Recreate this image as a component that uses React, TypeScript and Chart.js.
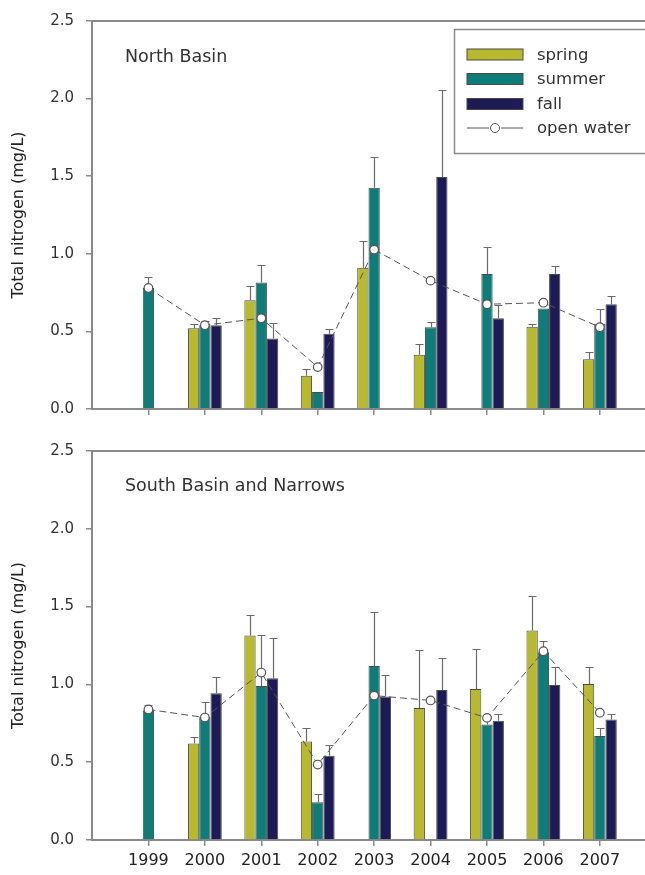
import React, { useEffect, useRef } from 'react';
import { Chart, registerables } from 'chart.js';

Chart.register(...registerables);

// ---------- data ----------
const years = [1999, 2000, 2001, 2002, 2003, 2004, 2005, 2006, 2007];
const yTicks = [0, 0.5, 1.0, 1.5, 2.0, 2.5];

// North Basin (mean and upper error-bar length)
const northSpring = [null, 0.52, 0.70, 0.215, 0.91, 0.35, null, 0.53, 0.32];
const northSpringErr = [null, 0.03, 0.09, 0.04, 0.17, 0.07, null, 0.02, 0.05];
const northSummer = [0.78, 0.54, 0.815, 0.11, 1.425, 0.527, 0.87, 0.648, 0.55];
const northSummerErr = [0.07, 0.03, 0.115, 0, 0.2, 0.036, 0.175, 0, 0.095];
const northFall = [null, 0.54, 0.455, 0.485, null, 1.495, 0.585, 0.87, 0.675];
const northFallErr = [null, 0.044, 0.096, 0.032, null, 0.562, 0.085, 0.052, 0.053];
const northOpen = [0.78, 0.54, 0.585, 0.27, 1.027, 0.827, 0.675, 0.685, 0.527];

// South Basin and Narrows
const southSpring = [null, 0.62, 1.315, 0.633, null, 0.848, 0.97, 1.346, 1.002];
const southSpringErr = [null, 0.04, 0.13, 0.084, null, 0.37, 0.258, 0.22, 0.11];
const southSummer = [0.833, 0.79, 0.99, 0.243, 1.118, null, 0.742, 1.206, 0.669];
const southSummerErr = [0.035, 0.096, 0.328, 0.052, 0.348, null, 0.058, 0.07, 0.054];
const southFall = [null, 0.943, 1.04, 0.542, 0.922, 0.964, 0.766, 0.996, 0.774];
const southFallErr = [null, 0.107, 0.26, 0.066, 0.139, 0.205, 0.046, 0.116, 0.037];
const southOpen = [0.839, 0.787, 1.076, 0.485, 0.928, 0.897, 0.785, 1.213, 0.818];

const seriesNames = ['spring', 'summer', 'fall', 'open water'];
const yTitle = 'Total nitrogen (mg/L)';

// ---------- style ----------
const FONT = "'DejaVu Sans', 'Liberation Sans', Arial, sans-serif";
const C_SPRING = '#b9b92f';
const C_SUMMER = '#0e7c78';
const C_FALL = '#1d1a55';
const AXIS = '#8a8a8a';
const BAR_EDGE = '#4a4a4a';
const ERR = '#6a6a6a';
const LINE = '#555555';

const errorBarPlugin = {
  id: 'errorBars',
  afterDatasetDraw(chart: any, args: any) {
    const ds: any = chart.data.datasets[args.index];
    if (!ds.errors) return;
    const yScale = chart.scales.y;
    const ctx = chart.ctx;
    ctx.save();
    ctx.strokeStyle = ERR;
    ctx.lineWidth = 1.2;
    args.meta.data.forEach((bar: any, i: number) => {
      const v = ds.data[i].y;
      const e = ds.errors[i];
      if (v == null || !e) return;
      const x = Math.round(bar.x) + 0.5;
      const yb = yScale.getPixelForValue(v);
      const yt = Math.round(yScale.getPixelForValue(v + e)) + 0.5;
      ctx.beginPath();
      ctx.moveTo(x, yb);
      ctx.lineTo(x, yt);
      ctx.moveTo(x - 4, yt);
      ctx.lineTo(x + 4, yt);
      ctx.stroke();
    });
    ctx.restore();
  },
};

const framePlugin = {
  id: 'frameTop',
  afterDraw(chart: any) {
    const { ctx, chartArea } = chart;
    ctx.save();
    ctx.strokeStyle = AXIS;
    ctx.lineWidth = 2;
    ctx.beginPath();
    ctx.moveTo(chartArea.left - 1, chartArea.top);
    ctx.lineTo(chartArea.right, chartArea.top);
    ctx.stroke();
    const o = chart.options.plugins.panelTitle;
    if (o && o.text) {
      ctx.fillStyle = '#333';
      ctx.font = `17.5px ${FONT}`;
      ctx.textBaseline = 'alphabetic';
      ctx.textAlign = 'left';
      ctx.fillText(o.text, o.x, o.baseline);
    }
    ctx.restore();
  },
};

const legendPlugin = {
  id: 'boxLegend',
  afterDraw(chart: any) {
    const o = chart.options.plugins.boxLegend;
    if (!o || !o.show) return;
    const { ctx, chartArea } = chart;
    const x0 = 454.5;
    const y0 = chartArea.top + 8.5;
    const w = 200;
    const h = 124;
    ctx.save();
    ctx.fillStyle = '#fff';
    ctx.fillRect(x0, y0, w, h);
    ctx.strokeStyle = AXIS;
    ctx.lineWidth = 1.5;
    ctx.strokeRect(x0, y0, w, h);
    const rows = [y0 + 25, y0 + 49.5, y0 + 74.5, y0 + 98.5];
    const cols = [C_SPRING, C_SUMMER, C_FALL];
    ctx.font = `16.5px ${FONT}`;
    ctx.textBaseline = 'middle';
    ctx.textAlign = 'left';
    for (let i = 0; i < 4; i++) {
      const cy = rows[i];
      if (i < 3) {
        ctx.fillStyle = cols[i];
        ctx.fillRect(467, cy - 5.5, 56, 11);
        ctx.strokeStyle = BAR_EDGE;
        ctx.lineWidth = 1;
        ctx.strokeRect(467, cy - 5.5, 56, 11);
      } else {
        ctx.strokeStyle = LINE;
        ctx.lineWidth = 1;
        ctx.beginPath();
        ctx.moveTo(467, cy);
        ctx.lineTo(489, cy);
        ctx.moveTo(501, cy);
        ctx.lineTo(523, cy);
        ctx.stroke();
        ctx.beginPath();
        ctx.arc(495, cy, 4.5, 0, Math.PI * 2);
        ctx.fillStyle = '#fff';
        ctx.fill();
        ctx.stroke();
      }
      ctx.fillStyle = '#333';
      ctx.fillText(seriesNames[i], 537, cy + 1);
    }
    ctx.restore();
  },
};

type PanelProps = {
  spring: (number | null)[];
  springErr: (number | null)[];
  summer: (number | null)[];
  summerErr: (number | null)[];
  fall: (number | null)[];
  fallErr: (number | null)[];
  open: number[];
  title: string;
  titleBaseline: number;
  showXLabels: boolean;
  showLegend: boolean;
  top: number;
  height: number;
  padTop: number;
  xAxisHeight: number;
};

function toXY(vals: (number | null)[]) {
  return years.map((yr, i) => ({ x: yr, y: vals[i] }));
}

function Panel(p: PanelProps) {
  const ref = useRef<HTMLCanvasElement | null>(null);
  useEffect(() => {
    if (!ref.current) return;
    const barBase = {
      type: 'bar' as const,
      borderColor: BAR_EDGE,
      borderWidth: 1,
      categoryPercentage: 0.6,
      barPercentage: 1.0,
      order: 1,
    };
    const chart = new Chart(ref.current, {
      type: 'bar',
      data: {
        datasets: [
          { ...barBase, label: seriesNames[0], data: toXY(p.spring), backgroundColor: C_SPRING, errors: p.springErr } as any,
          { ...barBase, label: seriesNames[1], data: toXY(p.summer), backgroundColor: C_SUMMER, errors: p.summerErr } as any,
          { ...barBase, label: seriesNames[2], data: toXY(p.fall), backgroundColor: C_FALL, errors: p.fallErr } as any,
          {
            type: 'line',
            label: seriesNames[3],
            data: toXY(p.open),
            borderColor: LINE,
            borderWidth: 1,
            borderDash: [7, 4],
            pointRadius: 4.3,
            pointBackgroundColor: '#ffffff',
            pointBorderColor: LINE,
            pointBorderWidth: 1.2,
            tension: 0,
            order: 0,
          } as any,
        ],
      },
      options: {
        responsive: false,
        animation: false,
        devicePixelRatio: 1,
        layout: { autoPadding: false, padding: { top: p.padTop, left: 0, right: 0, bottom: 0 } },
        plugins: {
          legend: { display: false },
          tooltip: { enabled: false },
          boxLegend: { show: p.showLegend },
          panelTitle: { text: p.title, x: 125, baseline: p.titleBaseline },
        } as any,
        scales: {
          x: {
            type: 'linear',
            min: 1998,
            max: 2007.8,
            offset: false,
            bounds: 'data',
            afterBuildTicks: (s: any) => {
              s.ticks = years.map((v) => ({ value: v }));
            },
            afterFit: (s: any) => {
              s.height = p.xAxisHeight;
              s.paddingLeft = 0;
              s.paddingRight = 0;
            },
            grid: {
              display: true,
              offset: false,
              drawOnChartArea: false,
              drawTicks: true,
              tickLength: 6,
              color: AXIS,
              lineWidth: 1.5,
            },
            border: { display: true, color: AXIS, width: 2 },
            ticks: {
              display: p.showXLabels,
              autoSkip: false,
              maxRotation: 0,
              padding: 5,
              color: '#222',
              font: { family: FONT, size: 16 },
              callback: (v: any) => String(v),
            },
          },
          y: {
            type: 'linear',
            min: 0,
            max: 2.5,
            afterBuildTicks: (s: any) => {
              s.ticks = yTicks.map((v) => ({ value: v }));
            },
            afterFit: (s: any) => {
              s.width = 92;
            },
            grid: {
              display: true,
              drawOnChartArea: false,
              drawTicks: true,
              tickLength: 6,
              color: AXIS,
              lineWidth: 1.5,
            },
            border: { display: true, color: AXIS, width: 2 },
            ticks: {
              padding: 12,
              color: '#333',
              font: { family: FONT, size: 15 },
              callback: (v: any) => Number(v).toFixed(1),
            },
            title: {
              display: true,
              text: yTitle,
              color: '#222',
              font: { family: FONT, size: 16 },
              padding: { top: 9, bottom: 0 },
            },
          },
        },
      } as any,
      plugins: [errorBarPlugin, framePlugin, legendPlugin],
    });
    return () => chart.destroy();
  }, []);
  return (
    <canvas
      ref={ref}
      width={645}
      height={p.height}
      style={{ position: 'absolute', left: 0, top: p.top, width: 645, height: p.height, display: 'block' }}
    />
  );
}

export default function App() {
  return (
    <div style={{ position: 'absolute', left: 0, top: 0, width: 645, height: 875, background: '#fff', overflow: 'hidden' }}>
      <Panel
        spring={northSpring}
        springErr={northSpringErr}
        summer={northSummer}
        summerErr={northSummerErr}
        fall={northFall}
        fallErr={northFallErr}
        open={northOpen}
        title="North Basin"
        titleBaseline={61.5}
        showXLabels={false}
        showLegend={true}
        top={0}
        height={430}
        padTop={20}
        xAxisHeight={15}
      />
      <Panel
        spring={southSpring}
        springErr={southSpringErr}
        summer={southSummer}
        summerErr={southSummerErr}
        fall={southFall}
        fallErr={southFallErr}
        open={southOpen}
        title="South Basin and Narrows"
        titleBaseline={60.5}
        showXLabels={true}
        showLegend={false}
        top={430}
        height={445}
        padTop={15}
        xAxisHeight={35}
      />
    </div>
  );
}
